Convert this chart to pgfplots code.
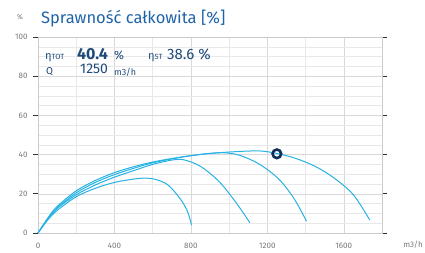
\documentclass[border=0pt]{standalone}
\usepackage{pgfplots}
\pgfplotsset{compat=1.18}
\usepackage{fontspec}
\setmainfont{Fira Sans}
\definecolor{curve}{RGB}{38,178,228}
\definecolor{navy}{RGB}{16,46,92}
\definecolor{titleblue}{RGB}{32,100,168}
\definecolor{txtblue}{RGB}{30,74,122}
\definecolor{tickgray}{RGB}{120,120,120}
\begin{document}
\begin{tikzpicture}
\useasboundingbox (0pt,0pt) rectangle (425pt,253pt);
\begin{axis}[
  at={(38pt,20pt)}, anchor=south west,
  width=344pt, height=196pt, scale only axis,
  xmin=0, xmax=1800, ymin=0, ymax=100,
  xtick={0,400,800,1200,1600},
  minor xtick={200,600,1000,1400},
  ytick={0,20,40,60,80,100},
  minor ytick={5,10,15,25,30,35,45,50,55,65,70,75,85,90,95},
  grid=both,
  major grid style={draw=black!15, line width=0.5pt},
  minor grid style={draw=black!9, line width=0.5pt},
  axis line style={draw=black!20, line width=0.6pt},
  xtick style={draw=none},
  minor tick length=0pt,
  ytick style={draw=black!80, line width=0.8pt},
  tick align=outside,
  major tick length=5pt,
  ticklabel style={font=\fontsize{8}{9}\selectfont, text=tickgray},
  yticklabel style={xshift=-2pt},
  xticklabel style={yshift=-2pt},
  /pgf/number format/assume math mode=true,
  /pgf/number format/1000 sep={},
  clip=false,
]
\addplot[curve, line width=1pt, smooth, tension=0.55] coordinates {
(0,0)(50,6.5)(100,11.5)(200,18.5)(300,22.8)(400,25.8)(500,27.5)(560,28)(620,27.2)(680,24.5)(740,18)(780,11.5)(804,4)};
\addplot[curve, line width=1pt, smooth, tension=0.55] coordinates {
(0,0)(50,7)(100,12.5)(200,19.5)(300,24.5)(400,28.5)(500,31.8)(600,35)(700,37.2)(760,37.4)(850,34)(950,26)(1040,15)(1108,5.3)};
\addplot[curve, line width=1pt, smooth, tension=0.55] coordinates {
(0,0)(50,7)(100,12.8)(200,20.5)(300,25.8)(400,29.8)(500,33)(600,35.8)(700,37.8)(800,39.4)(900,40.6)(980,40.9)(1060,39.5)(1160,35)(1260,27.5)(1340,17.5)(1405,6)};
\addplot[curve, line width=1pt, smooth, tension=0.55] coordinates {
(0,0)(50,7.5)(100,13.5)(200,21.5)(300,26.8)(400,30.8)(500,33.8)(600,36.2)(700,38)(800,39.5)(900,40.6)(1000,41.3)(1100,41.8)(1170,41.8)(1250,40.6)(1350,38)(1450,34)(1550,28)(1650,19.5)(1736,6.6)};
\addplot[only marks, mark=o, mark size=4.3pt, mark options={draw=navy, line width=2.6pt}] coordinates {(1250,40.4)};
\end{axis}
% texts
\node[anchor=base west, text=titleblue, font=\fontsize{16.5}{18}\selectfont, inner sep=0pt] at (41pt,229pt) {Sprawność całkowita [\%]};
\node[anchor=base west, text=tickgray, font=\fontsize{7}{8}\selectfont, inner sep=0pt] at (17pt,233pt) {\%};
\node[anchor=base east, text=tickgray, font=\fontsize{8}{9}\selectfont, inner sep=0pt] at (423pt,5pt) {m3/h};
% values
\node[anchor=base west, text=txtblue, inner sep=0pt] at (45pt,193pt) {{\fontsize{11}{12}\selectfont η}{\fontsize{7.5}{8}\selectfont TOT}};
\node[anchor=base west, text=txtblue, inner sep=0pt, font=\fontsize{16}{18}\selectfont\bfseries] at (77pt,193pt) {40.4};
\node[anchor=base west, text=txtblue, inner sep=0pt, font=\fontsize{12}{14}\selectfont] at (114pt,193pt) {\%};
\node[anchor=base west, text=txtblue, inner sep=0pt] at (148pt,193pt) {{\fontsize{11}{12}\selectfont η}{\fontsize{7.5}{8}\selectfont ST}};
\node[anchor=base west, text=txtblue, inner sep=0pt, font=\fontsize{15}{18}\selectfont] at (167pt,193pt) {38.6 \%};
\node[anchor=base west, text=txtblue, inner sep=0pt, font=\fontsize{10}{12}\selectfont] at (46pt,178pt) {Q};
\node[anchor=base west, text=txtblue, inner sep=0pt, font=\fontsize{14}{16}\selectfont] at (80pt,179pt) {1250};
\node[anchor=base west, text=txtblue, inner sep=0pt, font=\fontsize{9}{10}\selectfont] at (114pt,177pt) {m3/h};
\end{tikzpicture}
\end{document}
